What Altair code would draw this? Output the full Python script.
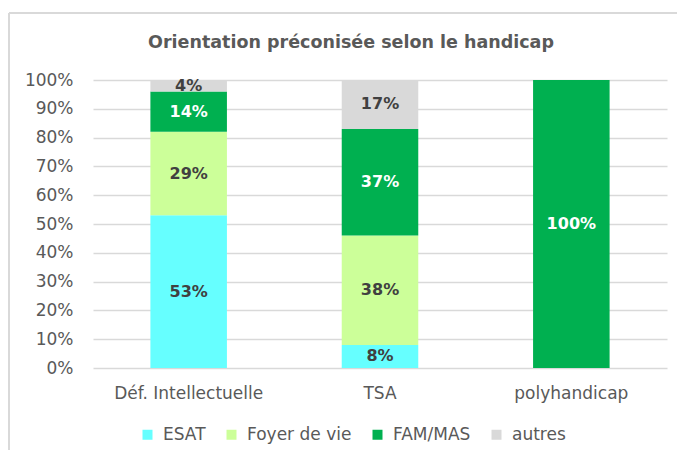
import altair as alt
import pandas as pd

categories = ["Déf. Intellectuelle", "TSA", "polyhandicap"]
series = ["ESAT", "Foyer de vie", "FAM/MAS", "autres"]
colors = ["#66FFFF", "#CCFF99", "#00B050", "#D9D9D9"]
text_colors = ["#404040", "#404040", "#FFFFFF", "#404040"]
title_text = "Orientation préconisée selon le handicap"
y_ticks = [0, 0.1, 0.2, 0.3, 0.4, 0.5, 0.6, 0.7, 0.8, 0.9, 1.0]

esat = [53, 8, 0]
foyer = [29, 38, 0]
fam = [14, 37, 100]
autres = [4, 17, 0]

values = [esat, foyer, fam, autres]
rows = []
for si, s in enumerate(series):
    for ci, c in enumerate(categories):
        rows.append({"cat": c, "serie": s, "ord": si, "v": values[si][ci] / 100.0,
                     "tcol": text_colors[si]})
df = pd.DataFrame(rows)

FONT = "DejaVu Sans"
GRAY = "#595959"

x_axis = alt.Axis(labelAngle=0, ticks=False, domain=False, labelPadding=17, grid=False,
                  labelFontSize=17, labelColor=GRAY, labelFont=FONT)
y_axis = alt.Axis(format=".0%", values=y_ticks, ticks=False, domain=False, labelPadding=20,
                  labelOverlap=False, grid=True,
                  labelFontSize=17, labelColor=GRAY, labelFont=FONT,
                  gridColor="#D9D9D9", gridWidth=1.5)
x_scale = alt.Scale(paddingInner=0.6, paddingOuter=0.3)
y_scale = alt.Scale(domain=[0, 1])

base = alt.Chart(df)

bars = base.mark_bar().encode(
    x=alt.X("cat:N", sort=categories, title=None, scale=x_scale, axis=x_axis),
    y=alt.Y("v:Q", stack="zero", title=None, scale=y_scale, axis=y_axis),
    color=alt.Color("serie:N", sort=series,
                    scale=alt.Scale(domain=series, range=colors),
                    legend=alt.Legend(title=None, orient="none", direction="horizontal",
                                      legendX=46, legendY=346,
                                      symbolType="square", symbolSize=100,
                                      symbolStrokeWidth=0,
                                      labelFontSize=17, labelColor=GRAY, labelFont=FONT,
                                      columnPadding=17, symbolOffset=0, labelOffset=7)),
    order=alt.Order("ord:Q", sort="ascending"),
)

labels = base.transform_window(
    cum="sum(v)", groupby=["cat"], sort=[alt.SortField("ord", "ascending")],
    frame=[None, 0]
).transform_calculate(
    mid="datum.cum - datum.v / 2"
).transform_filter("datum.v > 0").mark_text(
    fontWeight="bold", fontSize=16, font=FONT
).encode(
    x=alt.X("cat:N", sort=categories, title=None, scale=x_scale, axis=x_axis),
    y=alt.Y("mid:Q", title=None, scale=y_scale, axis=y_axis),
    text=alt.Text("v:Q", format=".0%"),
    color=alt.Color("tcol:N", scale=None),
)

deco = alt.Data(values=[{"t": title_text}])
title = alt.Chart(deco).mark_text(
    fontSize=17.5, fontWeight="bold", font=FONT, color=GRAY, baseline="middle", align="center"
).encode(text="t:N", x=alt.value(258), y=alt.value(-37))
top_line = alt.Chart(deco).mark_rule(color="#D9D9D9", strokeWidth=2).encode(
    x=alt.value(-84), x2=alt.value(700), y=alt.value(-67))
left_line = alt.Chart(deco).mark_rule(color="#D9D9D9", strokeWidth=2).encode(
    x=alt.value(-84), y=alt.value(-67), y2=alt.value(400))

chart = alt.layer(bars, labels, title, top_line, left_line).properties(
    width=574, height=288,
    autosize=alt.AutoSizeParams(type="none"),
    padding={"left": 85, "top": 72, "right": 10, "bottom": 82},
).configure_view(stroke=None)

chart.save("out.html", embed_options={"renderer": "svg", "actions": False})
